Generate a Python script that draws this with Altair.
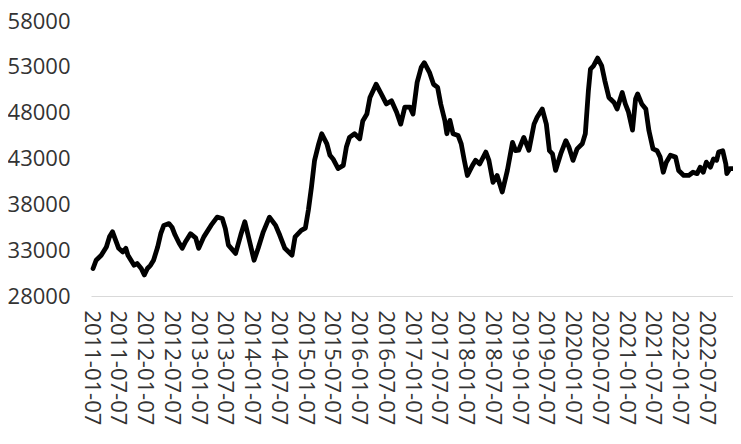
import altair as alt
import pandas as pd
import numpy as np

# weeks after 2011-01-07 (weekly series) and the value read at each
weeks = [2, 5, 10, 15, 18, 21, 24, 27, 31, 34, 36, 39, 42, 45, 49, 52, 55, 58, 61, 65,
         68, 71, 76, 79, 82, 86, 89, 92, 97, 102, 105, 110, 117, 123, 128, 131, 134, 141, 146, 150,
         154, 159, 163, 168, 174, 180, 184, 189, 196, 199, 205, 209, 212, 215, 218, 222, 225, 230, 233, 236,
         241, 246, 249, 252, 257, 262, 265, 269, 272, 278, 283, 288, 293, 298, 302, 306, 311, 314, 318, 322,
         325, 330, 334, 338, 341, 345, 347, 350, 353, 358, 361, 364, 367, 372, 375, 379, 385, 388, 392, 396,
         401, 406, 411, 414, 417, 422, 427, 432, 435, 440, 444, 447, 450, 453, 458, 463, 466, 470, 474, 479,
         482, 485, 487, 490, 494, 498, 501, 505, 510, 513, 518, 521, 524, 528, 531, 533, 537, 541, 544, 548,
         552, 555, 558, 561, 565, 570, 573, 578, 583, 587, 591, 594, 597, 600, 604, 607, 610, 612, 616, 619,
         620, 623, 626]
values = [31000, 31900, 32450, 33350, 34450, 35000, 34100, 33200, 32800, 33200, 32450, 31900, 31350, 31550, 31000, 30300, 31000, 31350, 31900, 33350,
          34800, 35700, 35900, 35500, 34650, 33750, 33200, 33900, 34800, 34350, 33200, 34450, 35700, 36600, 36450, 35350, 33550, 32650, 34650, 36100,
          34250, 31900, 33200, 35000, 36600, 35700, 34650, 33200, 32450, 34450, 35150, 35400, 37400, 39900, 42800, 44600, 45700, 44600, 43350, 42950,
          41900, 42250, 44250, 45300, 45700, 45150, 47100, 47850, 49650, 51100, 50050, 48950, 49300, 48050, 46750, 48600, 48600, 47850, 51300, 52950,
          53450, 52400, 51100, 50750, 48950, 47150, 45700, 47150, 45700, 45500, 44600, 42800, 41150, 42250, 42800, 42400, 43700, 42800, 40400, 41150,
          39350, 41700, 44750, 43850, 43900, 45300, 43900, 46750, 47500, 48400, 46750, 43850, 43500, 41700, 43500, 44950, 44250, 42800, 44050, 44600,
          45700, 50400, 52750, 53100, 53950, 53100, 51500, 49650, 49100, 48400, 50200, 48950, 48100, 46100, 49500, 50050, 48950, 48400, 46050, 44050,
          43850, 43150, 41500, 42600, 43350, 43150, 41700, 41150, 41150, 41500, 41350, 42050, 41500, 42600, 42050, 42950, 42800, 43700, 43850, 42400,
          41350, 41900, 41900]

start_date = "2011-01-07"
tick_dates = [(y, m) for y in range(2011, 2023) for m in (1, 7)]
y_ticks = [28000, 33000, 38000, 43000, 48000, 53000, 58000]

dates = pd.Timestamp(start_date) + pd.to_timedelta(np.array(weeks) * 7, unit="D")
df = pd.DataFrame({"date": dates, "value": values})

font = "Open Sans"

chart = alt.Chart(df).mark_line(
    color="black", strokeWidth=4.8, strokeJoin="round", strokeCap="round"
).encode(
    x=alt.X(
        "date:T",
        title=None,
        scale=alt.Scale(
            domain=[alt.DateTime(year=2011, month=1, date=7), alt.DateTime(year=2023, month=1, date=6)],
            nice=False,
        ),
        axis=alt.Axis(
            values=[alt.DateTime(year=y, month=m, date=7) for y, m in tick_dates],
            format="%Y-%m-%d",
            labelAngle=90,
            labelAlign="left",
            labelBaseline="middle",
            labelPadding=14,
            labelFont=font,
            labelFontSize=22,
            labelColor="#333333",
            labelOverlap=False,
            ticks=False,
            tickSize=0,
            grid=False,
            domainColor="#d9d9d9",
            domainWidth=1,
        ),
    ),
    y=alt.Y(
        "value:Q",
        title=None,
        scale=alt.Scale(domain=[28000, 58000], nice=False, zero=False),
        axis=alt.Axis(
            values=y_ticks,
            format="d",
            labelFont=font,
            labelFontSize=22,
            labelColor="#333333",
            labelPadding=21,
            ticks=False,
            tickSize=0,
            domain=False,
            grid=False,
        ),
    ),
).properties(
    width=642,
    height=275,
    padding={"left": 83, "top": 13, "right": 0, "bottom": 140},
    autosize=alt.AutoSizeParams(type="none"),
    background="white",
).configure_view(stroke=None)

chart.save("out.html", embed_options={"renderer": "svg", "actions": False})
